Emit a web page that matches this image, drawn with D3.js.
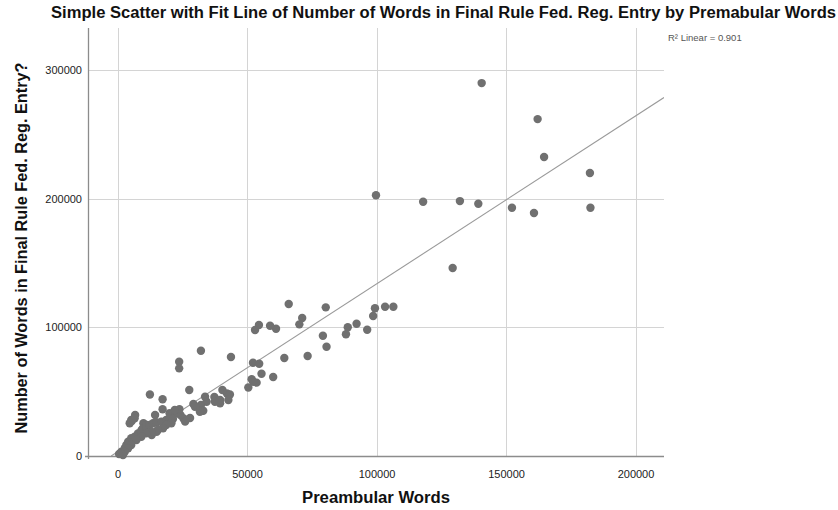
<!DOCTYPE html>
<html>
<head>
<meta charset="utf-8">
<script src="https://cdn.jsdelivr.net/npm/d3@7/dist/d3.min.js"></script>
<style>
  html, body { margin: 0; padding: 0; background: #fff; }
  svg { display: block; font-family: "Liberation Sans", Arial, sans-serif; }
</style>
</head>
<body>
<svg id="chart" width="838" height="510"></svg>
<script>
// Preambular word counts (x) and final-rule word counts (y), one entry per rule
const preambularWords = [
  140600, 162200, 164700, 182400, 182600, 118000, 132200, 139300, 152300, 160800,
  99800, 129400, 99400, 103300, 106500, 98700, 96400, 92300, 88900, 88200,
  80400, 66100, 79300, 80700, 71300, 70200, 61200, 58900, 54600, 53100,
  73400, 64400, 52300, 54700, 55600, 60100, 51800, 53700, 52400, 50500,
  32200, 43800, 23800, 23800, 27700, 17400, 17400, 14500, 12500, 6800, 5500,
  40500, 42200, 43400, 37400, 42800, 37600, 34400, 39600, 32200, 32500,
  29300, 28000, 29900, 33100, 33800, 31800, 39600,
  24300, 25400, 26100, 22900, 23900, 20100, 22100, 19600, 17700, 15100, 13200,
  5300, 6600, 4700, 10000, 11300, 9300,
  1500, 2800, 3400, 4100, 5300, 6600, 7900, 9200, 9800, 11100,
  12400, 13700, 15000, 16900, 18800, 20100, 21400, 20800, 18800, 17600,
  15600, 13000, 11100, 9200, 7300, 5300, 4100, 2800, 2100, 600
];
const finalRuleWords = [
  289800, 261800, 232300, 219900, 192900, 197600, 198100, 196000, 192900, 188800,
  202600, 146100, 114800, 116000, 116000, 108800, 98100, 102800, 100000, 94600,
  115500, 118100, 93500, 84900, 107200, 102300, 98900, 101200, 101800, 97900,
  77700, 76100, 72500, 71700, 63900, 61400, 59600, 57000, 57700, 53200,
  81800, 76900, 73300, 68100, 51300, 44100, 36300, 31900, 47800, 31900, 27200,
  51300, 48700, 47800, 45800, 43500, 42200, 42200, 40900, 39600, 35200,
  40400, 29500, 38300, 35200, 46100, 34400, 43500,
  31900, 29300, 26700, 33200, 36300, 33200, 35700, 26700, 22800, 18900, 16300,
  28000, 29300, 25400, 25400, 24100, 20200,
  3300, 6000, 8500, 11100, 13800, 15000, 17600, 18900, 21500, 22800,
  24100, 25400, 26200, 26700, 28000, 29300, 28700, 25400, 24100, 21500,
  20200, 18900, 17600, 15000, 12400, 8500, 6000, 3300, 800, 1600
];

const xTicks = [0, 50000, 100000, 150000, 200000];
const yTicks = [0, 100000, 200000, 300000];

// Least-squares fit line and its R²
const fitIntercept = 3200;
const fitSlope = 1.305;
const rSquared = 0.901;

const titleText = "Simple Scatter with Fit Line of Number of Words in Final Rule Fed. Reg. Entry by Premabular Words";
const xTitle = "Preambular Words";
const yTitle = "Number of Words in Final Rule Fed. Reg. Entry?";

const svg = d3.select("#chart");
const plot = { left: 88, right: 664, top: 28, bottom: 456 };

const x = d3.scaleLinear().domain([-11400, 211000]).range([plot.left, plot.right]);
const y = d3.scaleLinear().domain([0, 332600]).range([plot.bottom, plot.top]);

// Grid lines
const grid = svg.append("g").attr("stroke", "#d4d4d4").attr("stroke-width", 1);
grid.selectAll("line.vx").data(xTicks).join("line")
  .attr("x1", d => Math.round(x(d)) + 0.5).attr("x2", d => Math.round(x(d)) + 0.5)
  .attr("y1", plot.top).attr("y2", plot.bottom);
grid.selectAll("line.hy").data(yTicks.filter(d => d > 0)).join("line")
  .attr("y1", d => Math.round(y(d)) + 0.5).attr("y2", d => Math.round(y(d)) + 0.5)
  .attr("x1", plot.left).attr("x2", plot.right);

// Axes
const xAxis = d3.axisBottom(x).tickValues(xTicks).tickFormat(d3.format("d")).tickSize(0).tickPadding(14);
const yAxis = d3.axisLeft(y).tickValues(yTicks).tickFormat(d3.format("d")).tickSize(0).tickPadding(6);

const gx = svg.append("g").attr("transform", `translate(0,${plot.bottom})`).call(xAxis);
const gy = svg.append("g").attr("transform", `translate(${plot.left},0)`).call(yAxis);
[gx, gy].forEach(g => {
  g.select(".domain").remove();
  g.selectAll("text").attr("font-size", 11).attr("fill", "#222")
    .attr("font-family", "'Liberation Sans', Arial, sans-serif");
});

svg.append("line").attr("x1", plot.left - 3).attr("x2", plot.right)
  .attr("y1", plot.bottom + 0.5).attr("y2", plot.bottom + 0.5)
  .attr("stroke", "#8c8c8c").attr("stroke-width", 1.3);
svg.append("line").attr("x1", plot.left + 0.5).attr("x2", plot.left + 0.5)
  .attr("y1", plot.top).attr("y2", plot.bottom + 3)
  .attr("stroke", "#8c8c8c").attr("stroke-width", 1.3);

// Fit line, from where it meets y = 0 to the right edge
svg.append("defs").append("clipPath").attr("id", "plotClip")
  .append("rect").attr("x", plot.left).attr("y", plot.top)
  .attr("width", plot.right - plot.left).attr("height", plot.bottom - plot.top);

const xStart = -fitIntercept / fitSlope;
const xEnd = x.domain()[1];
svg.append("line")
  .attr("clip-path", "url(#plotClip)")
  .attr("x1", x(xStart)).attr("y1", y(fitIntercept + fitSlope * xStart))
  .attr("x2", x(xEnd)).attr("y2", y(fitIntercept + fitSlope * xEnd))
  .attr("stroke", "#9a9a9a").attr("stroke-width", 1.1);

// Points
const pts = preambularWords.map((v, i) => ({ px: v, fy: finalRuleWords[i] }));
svg.append("g").selectAll("circle").data(pts).join("circle")
  .attr("cx", d => x(d.px)).attr("cy", d => y(d.fy)).attr("r", 4.2)
  .attr("fill", "#707070");

// Titles
svg.append("text").attr("x", 443.5).attr("y", 18)
  .attr("text-anchor", "middle").attr("font-weight", "bold").attr("font-size", 16)
  .attr("fill", "#111")
  .attr("textLength", 785).attr("lengthAdjust", "spacingAndGlyphs")
  .text(titleText);

svg.append("text").attr("x", 376).attr("y", 503)
  .attr("text-anchor", "middle").attr("font-weight", "bold").attr("font-size", 16)
  .attr("fill", "#111")
  .attr("textLength", 148).attr("lengthAdjust", "spacingAndGlyphs")
  .text(xTitle);

svg.append("text").attr("transform", "translate(27,248) rotate(-90)")
  .attr("text-anchor", "middle").attr("font-weight", "bold").attr("font-size", 16)
  .attr("fill", "#111")
  .attr("textLength", 371).attr("lengthAdjust", "spacingAndGlyphs")
  .text(yTitle);

svg.append("text").attr("x", 668).attr("y", 41)
  .attr("font-size", 9.5).attr("fill", "#555")
  .text(`R² Linear = ${rSquared.toFixed(3)}`);
</script>
</body>
</html>
